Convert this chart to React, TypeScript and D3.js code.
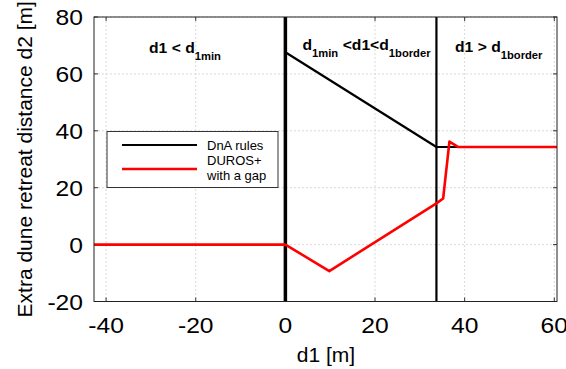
import React from "react";
import * as d3 from "d3";

const xTicks = [-40, -20, 0, 20, 40, 60];
const yTicks = [-20, 0, 20, 40, 60, 80];
const dnaX = [0, 33.7, 60.6];
const dnaY = [67.6, 34.3, 34.3];
const durosX = [-42.7, 0, 9.8, 33.7, 35.2, 36.6, 38.6, 60.6];
const durosY = [0, 0, -9.3, 14.5, 16.2, 36.2, 34.3, 34.3];
const boundaries = [0, 33.7];
const boundaryWidths = [3.5, 2.2];

const W = 566, H = 369;
const L = 94, R = 557, T = 17, B = 301.5;
const FONT = "Liberation Sans, Arial, Helvetica, sans-serif";
const SX = 1.12;

export default function App() {
  const x = d3.scaleLinear().domain([-42.7, 60.6]).range([L, R]);
  const y = d3.scaleLinear().domain([-20, 80]).range([B, T]);
  const line = d3.line<[number, number]>().x(d => x(d[0])).y(d => y(d[1]));
  const dnaPts = dnaX.map((v, i) => [v, dnaY[i]] as [number, number]);
  const durosPts = durosX.map((v, i) => [v, durosY[i]] as [number, number]);

  return (
    <svg width={W} height={H} style={{ position: "absolute", left: 0, top: 0 }} fontFamily={FONT}>
      <rect x={0} y={0} width={W} height={H} fill="#fff" />
      {xTicks.map(t => (
        <line key={"gx" + t} x1={x(t)} x2={x(t)} y1={T} y2={B} stroke="#d0d0d0" strokeWidth={0.8} strokeDasharray="2,2" />
      ))}
      {yTicks.map(t => (
        <line key={"gy" + t} x1={L} x2={R} y1={y(t)} y2={y(t)} stroke="#d0d0d0" strokeWidth={0.8} strokeDasharray="2,2" />
      ))}
      {xTicks.map(t => (
        <g key={"tx" + t}>
          <line x1={x(t)} x2={x(t)} y1={B} y2={B - 4} stroke="#333" />
          <line x1={x(t)} x2={x(t)} y1={T} y2={T + 4} stroke="#333" />
        </g>
      ))}
      {yTicks.map(t => (
        <g key={"ty" + t}>
          <line x1={L} x2={L + 4} y1={y(t)} y2={y(t)} stroke="#333" />
          <line x1={R} x2={R - 4} y1={y(t)} y2={y(t)} stroke="#333" />
        </g>
      ))}
      {boundaries.map((b, i) => (
        <line key={"b" + i} x1={x(b)} x2={x(b)} y1={T} y2={B} stroke="#000" strokeWidth={boundaryWidths[i]} />
      ))}
      <path d={line(dnaPts) || ""} fill="none" stroke="#000" strokeWidth={2.2} strokeLinejoin="round" />
      <path d={line(durosPts) || ""} fill="none" stroke="#ff0000" strokeWidth={2.6} strokeLinejoin="round" />
      <rect x={L} y={T} width={R - L} height={B - T} fill="none" stroke="#222" strokeWidth={1} />
      {xTicks.map(t => (
        <text key={"lx" + t} transform={`translate(${x(t)},333) scale(${SX},1)`} textAnchor="middle" fontSize={22} fill="#000">{t}</text>
      ))}
      {yTicks.map(t => (
        <text key={"ly" + t} transform={`translate(83,${y(t) + 8}) scale(${SX},1)`} textAnchor="end" fontSize={22} fill="#000">{t}</text>
      ))}
      <text x={326} y={362} textAnchor="middle" fontSize={21} fill="#000">d1 [m]</text>
      <text transform={`translate(32,${(T + B) / 2}) rotate(-90)`} textAnchor="middle" fontSize={21} fill="#000">
        Extra dune retreat distance d2 [m]
      </text>
      <text transform={`translate(149,53) scale(${SX},1)`} fontSize={14} fontWeight="bold" fill="#000">
        d1 &lt; d<tspan dy={7} fontSize={10}>1min</tspan>
      </text>
      <text transform={`translate(302.5,50) scale(${SX},1)`} fontSize={14} fontWeight="bold" fill="#000">
        d<tspan dy={7} fontSize={10}>1min</tspan>
        <tspan dy={-7} dx={4}>&lt;d1&lt;d</tspan>
        <tspan dy={7} fontSize={10}>1border</tspan>
      </text>
      <text transform={`translate(455,52) scale(${SX},1)`} fontSize={14} fontWeight="bold" fill="#000">
        d1 &gt; d<tspan dy={7} fontSize={10}>1border</tspan>
      </text>
      <rect x={107} y={131.5} width={171} height={56} fill="#fff" stroke="#333" strokeWidth={1} />
      <line x1={122} x2={197} y1={145} y2={145} stroke="#000" strokeWidth={2.2} />
      <line x1={122} x2={197} y1={169} y2={169} stroke="#ff0000" strokeWidth={2.6} />
      <text x={207} y={150} fontSize={13} fill="#000">DnA rules</text>
      <text x={207} y={165} fontSize={13} fill="#000">DUROS+</text>
      <text x={207} y={180} fontSize={13} fill="#000">with a gap</text>
    </svg>
  );
}
